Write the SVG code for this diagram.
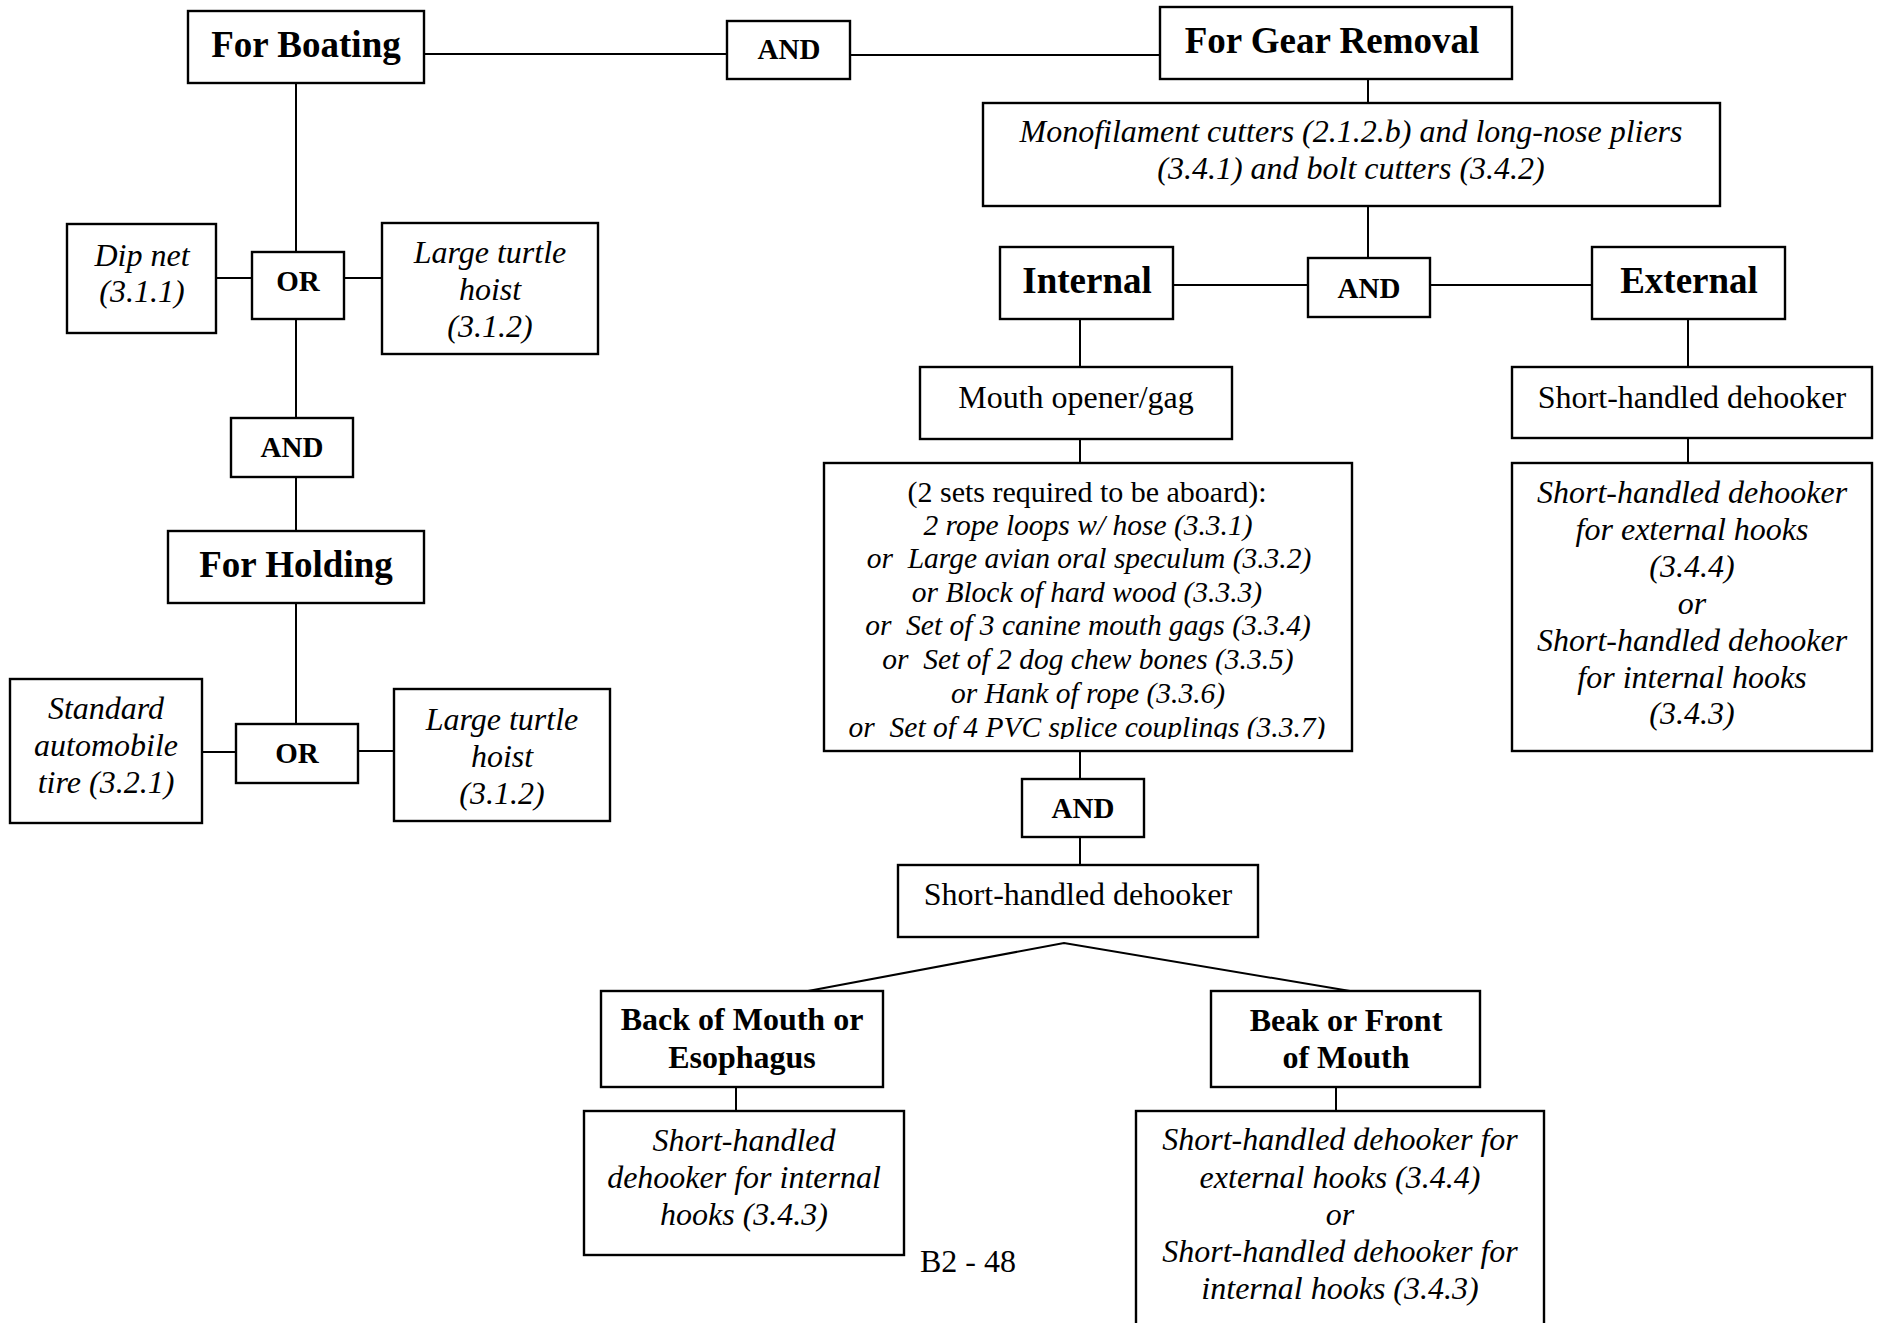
<svg xmlns="http://www.w3.org/2000/svg" width="1877" height="1323" viewBox="0 0 1877 1323">
  <style>
    .box { fill: #fff; stroke: #000; stroke-width: 2.4; }
    .ln { fill: none; stroke: #000; stroke-width: 2; }
    text { font-family: "Liberation Serif", "Times New Roman", serif; fill: #000; text-anchor: middle; }
    .h { font-size: 37px; font-weight: bold; }
    .hb { font-size: 32px; font-weight: bold; }
    .op { font-size: 29px; font-weight: bold; }
    .it { font-size: 32px; font-style: italic; }
    .rg { font-size: 32px; }
    .li { font-size: 29.5px; font-style: italic; }
    .lr { font-size: 30px; }
  </style>
  <defs>
    <clipPath id="listClip">
      <rect x="824" y="463" width="528" height="276"/>
    </clipPath>
  </defs>
  <rect x="0" y="0" width="1877" height="1323" fill="#fff"/>

  <g id="connectors">
    <path class="ln" d="M424 54 H727"/>
    <path class="ln" d="M850 55 H1160"/>
    <path class="ln" d="M1368 79 V103"/>
    <path class="ln" d="M1368 206 V258"/>
    <path class="ln" d="M1173 285 H1308"/>
    <path class="ln" d="M1430 285 H1592"/>
    <path class="ln" d="M1688 319 V367"/>
    <path class="ln" d="M1688 438 V463"/>
    <path class="ln" d="M1080 319 V367"/>
    <path class="ln" d="M1080 439 V463"/>
    <path class="ln" d="M1080 751 V779"/>
    <path class="ln" d="M1080 837 V865"/>
    <path class="ln" d="M808 991 L1064 943 L1350 991"/>
    <path class="ln" d="M736 1087 V1111"/>
    <path class="ln" d="M1336 1087 V1111"/>
    <path class="ln" d="M296 83 V252"/>
    <path class="ln" d="M216 278 H252"/>
    <path class="ln" d="M344 278 H382"/>
    <path class="ln" d="M296 319 V418"/>
    <path class="ln" d="M296 477 V531"/>
    <path class="ln" d="M296 603 V724"/>
    <path class="ln" d="M202 752 H236"/>
    <path class="ln" d="M358 751 H394"/>
  </g>

  <g id="for-boating">
    <rect class="box" x="188" y="11" width="236" height="72"/>
    <text class="h" x="306" y="57">For Boating</text>
  </g>
  <g id="and-top">
    <rect class="box" x="727" y="21" width="123" height="58"/>
    <text class="op" x="789" y="59">AND</text>
  </g>
  <g id="for-gear-removal">
    <rect class="box" x="1160" y="7" width="352" height="72"/>
    <text class="h" x="1332" y="53">For Gear Removal</text>
  </g>
  <g id="cutters">
    <rect class="box" x="983" y="103" width="737" height="103"/>
    <text class="it" x="1351" y="142">Monofilament cutters (2.1.2.b) and long-nose pliers</text>
    <text class="it" x="1351" y="179">(3.4.1) and bolt cutters (3.4.2)</text>
  </g>
  <g id="internal">
    <rect class="box" x="1000" y="247" width="173" height="72"/>
    <text class="h" x="1087" y="293">Internal</text>
  </g>
  <g id="and-mid">
    <rect class="box" x="1308" y="258" width="122" height="59"/>
    <text class="op" x="1369" y="298">AND</text>
  </g>
  <g id="external">
    <rect class="box" x="1592" y="247" width="193" height="72"/>
    <text class="h" x="1689" y="293">External</text>
  </g>
  <g id="ext-dehooker">
    <rect class="box" x="1512" y="367" width="360" height="71"/>
    <text class="rg" x="1692" y="408">Short-handled dehooker</text>
  </g>
  <g id="ext-dehooker-types">
    <rect class="box" x="1512" y="463" width="360" height="288"/>
    <text class="it" x="1692" y="503">Short-handled dehooker</text>
    <text class="it" x="1692" y="540">for external hooks</text>
    <text class="it" x="1692" y="577">(3.4.4)</text>
    <text class="it" x="1692" y="614">or</text>
    <text class="it" x="1692" y="651">Short-handled dehooker</text>
    <text class="it" x="1692" y="688">for internal hooks</text>
    <text class="it" x="1692" y="724">(3.4.3)</text>
  </g>
  <g id="mouth-opener">
    <rect class="box" x="920" y="367" width="312" height="72"/>
    <text class="rg" x="1076" y="408">Mouth opener/gag</text>
  </g>
  <g id="gag-options">
    <rect class="box" x="824" y="463" width="528" height="288"/>
    <g clip-path="url(#listClip)">
      <text class="lr" x="1087" y="502">(2 sets required to be aboard):</text>
      <text class="li" x="1088" y="535">2 rope loops w/ hose (3.3.1)</text>
      <text class="li" x="1089" y="568" xml:space="preserve">or  Large avian oral speculum (3.3.2)</text>
      <text class="li" x="1087" y="602">or Block of hard wood (3.3.3)</text>
      <text class="li" x="1088" y="635" xml:space="preserve">or  Set of 3 canine mouth gags (3.3.4)</text>
      <text class="li" x="1088" y="669" xml:space="preserve">or  Set of 2 dog chew bones (3.3.5)</text>
      <text class="li" x="1088" y="703">or Hank of rope (3.3.6)</text>
      <text class="li" x="1087" y="737" xml:space="preserve">or  Set of 4 PVC splice couplings (3.3.7)</text>
    </g>
  </g>
  <g id="and-low">
    <rect class="box" x="1022" y="779" width="122" height="58"/>
    <text class="op" x="1083" y="818">AND</text>
  </g>
  <g id="int-dehooker">
    <rect class="box" x="898" y="865" width="360" height="72"/>
    <text class="rg" x="1078" y="905">Short-handled dehooker</text>
  </g>
  <g id="back-of-mouth">
    <rect class="box" x="601" y="991" width="282" height="96"/>
    <text class="hb" x="742" y="1030">Back of Mouth or</text>
    <text class="hb" x="742" y="1068">Esophagus</text>
  </g>
  <g id="back-dehooker">
    <rect class="box" x="584" y="1111" width="320" height="144"/>
    <text class="it" x="744" y="1151">Short-handled</text>
    <text class="it" x="744" y="1188">dehooker for internal</text>
    <text class="it" x="744" y="1225">hooks (3.4.3)</text>
  </g>
  <g id="beak-front">
    <rect class="box" x="1211" y="991" width="269" height="96"/>
    <text class="hb" x="1346" y="1031">Beak or Front</text>
    <text class="hb" x="1346" y="1068">of Mouth</text>
  </g>
  <g id="beak-dehooker">
    <rect class="box" x="1136" y="1111" width="408" height="230"/>
    <text class="it" x="1340" y="1150">Short-handled dehooker for</text>
    <text class="it" x="1340" y="1188">external hooks (3.4.4)</text>
    <text class="it" x="1340" y="1225">or</text>
    <text class="it" x="1340" y="1262">Short-handled dehooker for</text>
    <text class="it" x="1340" y="1299">internal hooks (3.4.3)</text>
  </g>

  <g id="or-boating">
    <rect class="box" x="252" y="252" width="92" height="67"/>
    <text class="op" x="298" y="291">OR</text>
  </g>
  <g id="dip-net">
    <rect class="box" x="67" y="224" width="149" height="109"/>
    <text class="it" x="142" y="266">Dip net</text>
    <text class="it" x="142" y="302">(3.1.1)</text>
  </g>
  <g id="hoist-boating">
    <rect class="box" x="382" y="223" width="216" height="131"/>
    <text class="it" x="490" y="263">Large turtle</text>
    <text class="it" x="490" y="300">hoist</text>
    <text class="it" x="490" y="337">(3.1.2)</text>
  </g>
  <g id="and-left">
    <rect class="box" x="231" y="418" width="122" height="59"/>
    <text class="op" x="292" y="457">AND</text>
  </g>
  <g id="for-holding">
    <rect class="box" x="168" y="531" width="256" height="72"/>
    <text class="h" x="296" y="577">For Holding</text>
  </g>
  <g id="or-holding">
    <rect class="box" x="236" y="724" width="122" height="59"/>
    <text class="op" x="297" y="763">OR</text>
  </g>
  <g id="tire">
    <rect class="box" x="10" y="679" width="192" height="144"/>
    <text class="it" x="106" y="719">Standard</text>
    <text class="it" x="106" y="756">automobile</text>
    <text class="it" x="106" y="793">tire (3.2.1)</text>
  </g>
  <g id="hoist-holding">
    <rect class="box" x="394" y="689" width="216" height="132"/>
    <text class="it" x="502" y="730">Large turtle</text>
    <text class="it" x="502" y="767">hoist</text>
    <text class="it" x="502" y="804">(3.1.2)</text>
  </g>

  <text class="rg" x="968" y="1272">B2 - 48</text>
</svg>
